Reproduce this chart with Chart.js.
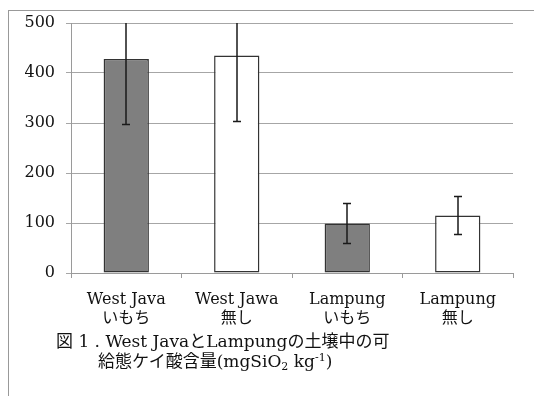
<!DOCTYPE html>
<html>
<head>
<meta charset="utf-8">
<script src="https://cdn.jsdelivr.net/npm/chart.js@4.4.0/dist/chart.umd.min.js"></script>
<style>
  body { margin: 0; background: #fff; }
  #wrap { position: relative; width: 534px; height: 396px; overflow: hidden; }
  #frame { position: absolute; left: 8px; top: 10px; width: 600px; height: 500px;
           border-left: 1px solid #999; border-top: 1px solid #999; }
  canvas { position: absolute; left: 0; top: 0; }
  .cap { position: absolute; font-family: "DejaVu Serif", "Noto Sans CJK JP", serif;
         font-size: 17px; color: #111; white-space: nowrap; line-height: 1; }
  .cap sub { font-size: 11px; vertical-align: -3px; }
  .cap sup { font-size: 11px; vertical-align: 6px; }
</style>
</head>
<body>
<div id="wrap">
  <div id="frame"></div>
  <canvas id="barChart" width="534" height="396"></canvas>
  <div class="cap" style="left:56px; top:333px;">図 1 . West JavaとLampungの土壌中の可</div>
  <div class="cap" style="left:98px; top:352px;">給態ケイ酸含量(mgSiO<sub>2</sub> kg<sup>-1</sup>)</div>
</div>
<script>
// categories, values and standard errors
var categories = [['West Java', 'いもち'], ['West Jawa', '無し'], ['Lampung', 'いもち'], ['Lampung', '無し']];
var values = [428, 435, 99, 115];
var errors = [131, 132, 40, 38];
var barColors = ['#7f7f7f', '#ffffff', '#7f7f7f', '#ffffff'];
var yTicks = [0, 100, 200, 300, 400, 500];

var fontFamily = '"DejaVu Serif", "Noto Sans CJK JP", serif';

// error bars drawn through the y scale
var errorBars = {
  id: 'errorBars',
  afterDatasetsDraw: function(chart) {
    var ctx = chart.ctx;
    var area = chart.chartArea;
    var y = chart.scales.y;
    var meta = chart.getDatasetMeta(0);
    ctx.save();
    ctx.beginPath();
    ctx.rect(area.left, area.top, area.right - area.left, area.bottom - area.top);
    ctx.clip();
    ctx.strokeStyle = '#1a1a1a';
    ctx.lineWidth = 1.5;
    meta.data.forEach(function(bar, i) {
      var x = Math.round(bar.x);
      var hi = y.getPixelForValue(values[i] + errors[i]);
      var lo = y.getPixelForValue(values[i] - errors[i]);
      ctx.beginPath();
      ctx.moveTo(x, hi); ctx.lineTo(x, lo);
      ctx.moveTo(x - 4, hi); ctx.lineTo(x + 4, hi);
      ctx.moveTo(x - 4, lo); ctx.lineTo(x + 4, lo);
      ctx.stroke();
    });
    ctx.restore();
  }
};

var ctxB = document.getElementById('barChart').getContext('2d');
var myBarChart = new Chart(ctxB, {
  type: 'bar',
  data: {
    labels: categories,
    datasets: [{
      data: values,
      backgroundColor: barColors,
      borderColor: '#333333',
      borderWidth: 1.5,
      borderSkipped: false,
      barPercentage: 0.41,
      categoryPercentage: 1.0
    }]
  },
  options: {
    responsive: false,
    animation: false,
    layout: { padding: { left: 0, right: 21, top: 23, bottom: 66 } },
    plugins: { legend: { display: false }, tooltip: { enabled: false } },
    scales: {
      x: {
        offset: true,
        grid: { offset: true, drawOnChartArea: false, drawTicks: true, tickLength: 5, color: '#9a9a9a' },
        border: { color: '#9a9a9a', width: 1 },
        ticks: {
          color: '#111',
          padding: 12,
          maxRotation: 0,
          font: { family: fontFamily, size: 16, lineHeight: 1.2 }
        },
        afterFit: function(scale) { scale.height = 57; }
      },
      y: {
        min: 0,
        max: 500,
        afterBuildTicks: function(scale) {
          scale.ticks = yTicks.map(function(v) { return { value: v }; });
        },
        grid: { color: '#a6a6a6', tickLength: 5 },
        border: { color: '#9a9a9a', width: 1 },
        ticks: {
          color: '#111',
          padding: 11,
          font: { family: fontFamily, size: 16 }
        },
        afterFit: function(scale) { scale.width = 71; }
      }
    }
  },
  plugins: [errorBars]
});
</script>
</body>
</html>
